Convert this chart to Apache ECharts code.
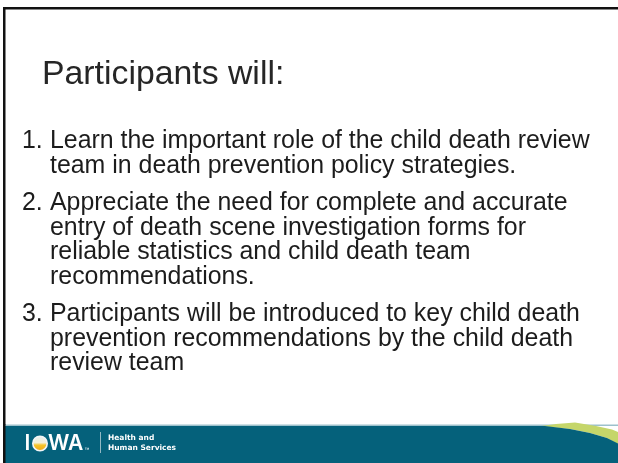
<!DOCTYPE html>
<html>
<head>
<meta charset="utf-8">
<script src="https://cdn.jsdelivr.net/npm/echarts@6/dist/echarts.min.js"></script>
<style>
  html, body { margin: 0; padding: 0; background: #fff; }
  #chart { width: 618px; height: 463px; }
</style>
</head>
<body>
<div id="chart"></div>
<script>
// slide content
var slideTitle = "Participants will:";
var itemNumbers = ["1.", "2.", "3."];
var itemLines = [
  ["Learn the important role of the child death review",
   "team in death prevention policy strategies."],
  ["Appreciate the need for complete and accurate",
   "entry of death scene investigation forms for",
   "reliable statistics and child death team",
   "recommendations."],
  ["Participants will be introduced to key child death",
   "prevention recommendations by the child death",
   "review team"]
];
var logoWord = ["I", "WA"];
var logoTagline = ["Health and", "Human Services"];

var chart = echarts.init(document.getElementById("chart"));

var W = 618, H = 463,
  bodyFont = '24.9px "Liberation Sans", Arial, sans-serif',
  textColor = "#1c1c1c",
  lineGap = 24.5,
  itemGap = 37.5,
  teal = "#05617b";

var els = [];

// frame lines (top + left)
els.push({ type: "rect", shape: { x: 3, y: 7, width: W - 3, height: 2.5 }, style: { fill: "#111" } });
els.push({ type: "rect", shape: { x: 3, y: 7, width: 2.5, height: H - 7 }, style: { fill: "#111" } });

// title
els.push({
  type: "text",
  style: { text: slideTitle, x: 42, y: 75, font: '33.8px "Liberation Sans", Arial, sans-serif', fill: "#262626", verticalAlign: "middle" }
});

// numbered list
var y = 141.5;
itemLines.forEach(function (lines, i) {
  els.push({
    type: "text",
    style: { text: itemNumbers[i], x: 22, y: y, font: bodyFont, fill: textColor, verticalAlign: "middle" }
  });
  lines.forEach(function (ln, j) {
    els.push({
      type: "text",
      style: { text: ln, x: 50, y: y, font: bodyFont, fill: textColor, verticalAlign: "middle" }
    });
    if (j < lines.length - 1) y += lineGap;
  });
  y += itemGap;
});

// footer band
els.push({ type: "rect", shape: { x: 5, y: 424.5, width: W - 5, height: 1.5 }, style: { fill: "#9dc1cc" } });
els.push({
  type: "polygon",
  shape: { points: [[538, 426.5], [556, 424], [575, 422.5], [596, 426], [612, 429.5], [618, 432], [618, 444], [607, 438], [590, 433], [570, 429], [545, 426.5]] },
  style: { fill: "#c5d66a" }
});
els.push({
  type: "polygon",
  shape: { points: [[5, 426], [545, 426], [570, 429], [590, 433], [607, 438], [618, 443.5], [618, H], [5, H]] },
  style: { fill: teal }
});
els.push({ type: "rect", shape: { x: 3, y: 424, width: 2.5, height: H - 424 }, style: { fill: "#111" } });

// logo
var logoFont = '600 21px Inter, "Liberation Sans", sans-serif';
els.push({ type: "text", style: { text: logoWord[0], x: 24.5, y: 444, font: logoFont, fill: "#fff", verticalAlign: "middle" } });
els.push({
  type: "circle",
  shape: { cx: 40, cy: 443.5, r: 7.2 },
  style: {
    fill: new echarts.graphic.LinearGradient(0, 0, 0, 1, [
      { offset: 0, color: "#e6eef0" },
      { offset: 0.45, color: "#f4f0d8" },
      { offset: 0.6, color: "#f6c52a" },
      { offset: 1, color: "#eea417" }
    ]),
    stroke: "#f2f5f6",
    lineWidth: 1.6
  }
});
els.push({ type: "text", style: { text: logoWord[1], x: 48, y: 444, font: logoFont, fill: "#fff", verticalAlign: "middle" } });
els.push({ type: "text", style: { text: "\u2122", x: 84.5, y: 450, font: "5px sans-serif", fill: "#fff", verticalAlign: "middle" } });
els.push({ type: "rect", shape: { x: 100, y: 432, width: 0.8, height: 21 }, style: { fill: "#b8cfd6" } });
logoTagline.forEach(function (t, i) {
  els.push({
    type: "text",
    style: { text: t, x: 108, y: 438.5 + i * 9.5, font: 'bold 7.5px "DejaVu Sans", sans-serif', fill: "#fff", verticalAlign: "middle" }
  });
});

chart.setOption({
  animation: false,
  backgroundColor: "#fff",
  graphic: { elements: els }
});
</script>
</body>
</html>
